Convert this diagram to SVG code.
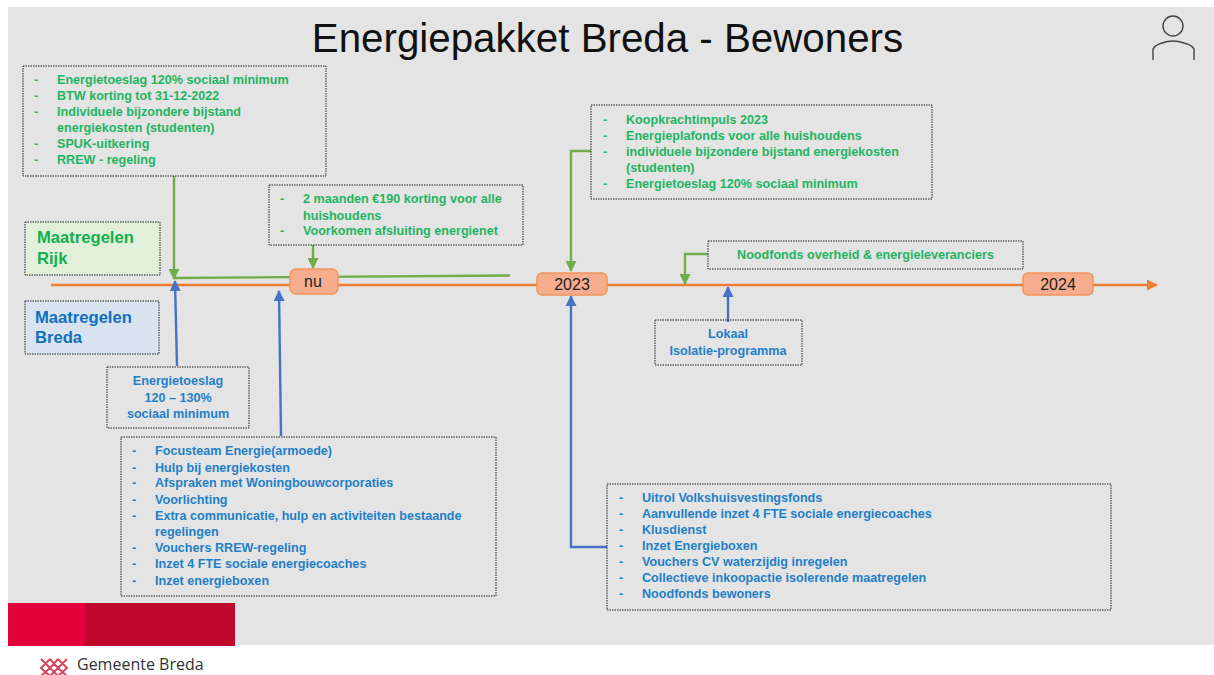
<svg xmlns="http://www.w3.org/2000/svg" width="1214" height="675" viewBox="0 0 1214 675">
<style>
text{font-family:"Liberation Sans",Arial,sans-serif}
.box{fill:none;stroke:#222;stroke-width:1;stroke-dasharray:1.5 1}
.g{fill:#1fb560;font-size:12.6px;font-weight:bold}
.b{fill:#1f7fc8;font-size:12.6px;font-weight:bold}
.m{text-anchor:middle}
.pill{fill:#f6ad8e;stroke:#f2945a;stroke-width:1.5}
.pt{font-size:16px;fill:#222;text-anchor:middle}
.gl{fill:none;stroke:#70ad47;stroke-width:2.4}
.bl{fill:none;stroke:#4472c4;stroke-width:2.4}
.ol{fill:none;stroke:#ed7d31;stroke-width:2.4}
</style>
<defs>
<marker id="ag" markerWidth="11" markerHeight="11" refX="10" refY="5.500" orient="auto" markerUnits="userSpaceOnUse"><path d="M0 0L11 5.500L0 11Z" fill="#70ad47"/></marker>
<marker id="ab" markerWidth="11" markerHeight="11" refX="10" refY="5.500" orient="auto" markerUnits="userSpaceOnUse"><path d="M0 0L11 5.500L0 11Z" fill="#4472c4"/></marker>
<marker id="ao" markerWidth="11" markerHeight="11" refX="10" refY="5.500" orient="auto" markerUnits="userSpaceOnUse"><path d="M0 0L11 5.500L0 11Z" fill="#ed7d31"/></marker>
</defs>
<rect x="8" y="7" width="1206" height="638" fill="#e4e4e4"/>
<text id="title" x="607.500" y="52" font-size="40.300" fill="#111" text-anchor="middle">Energiepakket Breda - Bewoners</text>
<g id="person" fill="none" stroke="#444" stroke-width="1.4"><circle cx="1173" cy="26" r="10"/><path d="M1153 60V49Q1155 45 1162 43Q1173 39 1184 43Q1192 45 1194 49V60"/></g>

<g id="connectors">
<path class="ol" d="M51 285H1157" marker-end="url(#ao)"/>
<path class="gl" d="M174 176V279"  marker-end="url(#ag)"/>
<path class="gl" d="M174 278L510 275.500"/>
<path class="gl" d="M313 245V268" marker-end="url(#ag)"/>
<path class="gl" d="M591 151H571V271" marker-end="url(#ag)"/>
<path class="gl" d="M708 254H685V284" marker-end="url(#ag)"/>
<path class="bl" d="M177 366L175 281" marker-end="url(#ab)"/>
<path class="bl" d="M281 436L279 291" marker-end="url(#ab)"/>
<path class="bl" d="M607 547H571V296" marker-end="url(#ab)"/>
<path class="bl" d="M728 322V287" marker-end="url(#ab)"/>
</g>

<g id="node-rijk-label"><rect x="25" y="222" width="135" height="53" class="box" style="fill:#e2efda"/><text x="37" y="243" font-size="16.600" font-weight="bold" fill="#12b04f">Maatregelen</text><text x="37" y="264" font-size="16.600" font-weight="bold" fill="#12b04f">Rijk</text></g>
<g id="node-breda-label"><rect x="25" y="301" width="134" height="53" class="box" style="fill:#d9e2ef"/><text x="35" y="323" font-size="16.600" font-weight="bold" fill="#0f70c0">Maatregelen</text><text x="35" y="343" font-size="16.600" font-weight="bold" fill="#0f70c0">Breda</text></g>

<g id="node-rijk-1"><rect x="23" y="66" width="303" height="110" class="box"/>
<g class="g"><text x="34" y="84">-</text><text x="57" y="84">Energietoeslag 120% sociaal minimum</text><text x="34" y="100">-</text><text x="57" y="100">BTW korting tot 31-12-2022</text><text x="34" y="116">-</text><text x="57" y="116">Individuele bijzondere bijstand</text><text x="57" y="132">energiekosten (studenten)</text><text x="34" y="148">-</text><text x="57" y="148">SPUK-uitkering</text><text x="34" y="164">-</text><text x="57" y="164">RREW - regeling</text></g></g>

<g id="node-rijk-2"><rect x="269" y="185" width="254" height="60" class="box"/>
<g class="g"><text x="280" y="203">-</text><text x="303" y="203">2 maanden €190 korting voor alle</text><text x="303" y="220">huishoudens</text><text x="280" y="235">-</text><text x="303" y="235">Voorkomen afsluiting energienet</text></g></g>

<g id="node-rijk-3"><rect x="591" y="105" width="341" height="94" class="box"/>
<g class="g"><text x="603" y="124">-</text><text x="626" y="124">Koopkrachtimpuls 2023</text><text x="603" y="140">-</text><text x="626" y="140">Energieplafonds voor alle huishoudens</text><text x="603" y="156">-</text><text x="626" y="156">individuele bijzondere bijstand energiekosten</text><text x="626" y="172">(studenten)</text><text x="603" y="188">-</text><text x="626" y="188">Energietoeslag 120% sociaal minimum</text></g></g>

<g id="node-rijk-4"><rect x="708" y="241" width="315" height="28" class="box"/><text class="g m" x="865.500" y="259">Noodfonds overheid &amp; energieleveranciers</text></g>

<g id="node-nu"><rect x="290" y="269" width="48" height="25" rx="6" class="pill"/><text class="pt" x="313" y="287">nu</text></g>
<g id="node-2023"><rect x="537" y="273" width="70" height="22" rx="5" class="pill"/><text class="pt" x="572" y="290">2023</text></g>
<g id="node-2024"><rect x="1023" y="273" width="70" height="22" rx="5" class="pill"/><text class="pt" x="1058" y="290">2024</text></g>

<g id="node-lokaal"><rect x="655" y="320" width="147" height="45" class="box"/><g class="b m"><text x="728" y="338">Lokaal</text><text x="728" y="355">Isolatie-programma</text></g></g>
<g id="node-toeslag"><rect x="107" y="367" width="142" height="61" class="box"/><g class="b m"><text x="178" y="385">Energietoeslag</text><text x="178" y="402">120 – 130%</text><text x="178" y="418">sociaal minimum</text></g></g>

<g id="node-breda-1"><rect x="121" y="437" width="375" height="159" class="box"/>
<g class="b"><text x="132" y="455">-</text><text x="155" y="455">Focusteam Energie(armoede)</text><text x="132" y="472">-</text><text x="155" y="472">Hulp bij energiekosten</text><text x="132" y="487">-</text><text x="155" y="487">Afspraken met Woningbouwcorporaties</text><text x="132" y="504">-</text><text x="155" y="504">Voorlichting</text><text x="132" y="520">-</text><text x="155" y="520">Extra communicatie, hulp en activiteiten bestaande</text><text x="155" y="536">regelingen</text><text x="132" y="552">-</text><text x="155" y="552">Vouchers RREW-regeling</text><text x="132" y="568">-</text><text x="155" y="568">Inzet 4 FTE sociale energiecoaches</text><text x="132" y="585">-</text><text x="155" y="585">Inzet energieboxen</text></g></g>

<g id="node-breda-2"><rect x="607" y="484" width="504" height="126" class="box"/>
<g class="b"><text x="619" y="502">-</text><text x="642" y="502">Uitrol Volkshuisvestingsfonds</text><text x="619" y="518">-</text><text x="642" y="518">Aanvullende inzet 4 FTE sociale energiecoaches</text><text x="619" y="534">-</text><text x="642" y="534">Klusdienst</text><text x="619" y="550">-</text><text x="642" y="550">Inzet Energieboxen</text><text x="619" y="566">-</text><text x="642" y="566">Vouchers CV waterzijdig inregelen</text><text x="619" y="582">-</text><text x="642" y="582">Collectieve inkoopactie isolerende maatregelen</text><text x="619" y="598">-</text><text x="642" y="598">Noodfonds bewoners</text></g></g>

<rect x="8" y="603" width="77" height="43" fill="#e4003a"/>
<rect x="85" y="603" width="150" height="43" fill="#c0082f"/>
<g id="logo" fill="none" stroke="#d9475f" stroke-width="2"><path d="M41 659L50 668L41 676M50 659L41 668L50 676M50 659L58 668L50 676M58 659L50 668L58 676M58 659L67 668L58 676M67 659L58 668L67 676"/></g>
<text x="77" y="670" font-size="16" fill="#333" style="font-family:'Open Sans',sans-serif">Gemeente Breda</text>
</svg>
